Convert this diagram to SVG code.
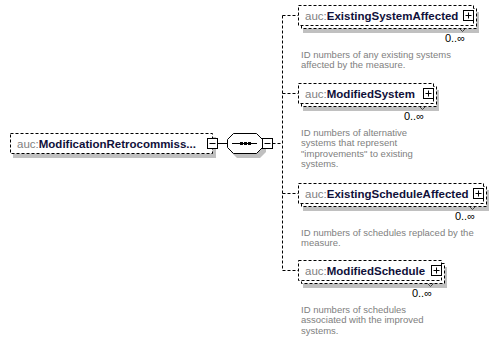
<svg xmlns="http://www.w3.org/2000/svg" width="497" height="343" viewBox="0 0 497 343">
  <style>
    .box { fill: #ffffff; stroke: #000000; stroke-width: 1; stroke-dasharray: 3 2; }
    .shadow { fill: #c0c0c0; stroke: none; }
    .btn { fill: #ffffff; stroke: #000000; stroke-width: 1; }
    .sign { stroke: #000000; stroke-width: 1; fill: none; }
    .dash { stroke: #000000; stroke-width: 1; stroke-dasharray: 3 2; fill: none; }
    .solid { stroke: #000000; stroke-width: 1; fill: none; }
    .name { font-family: "Liberation Sans", Arial, sans-serif; font-size: 11.5px; }
    .ns { fill: #7f7f7f; }
    .local { fill: #10103a; font-weight: bold; }
    .occ { font-family: "Liberation Sans", Arial, sans-serif; font-size: 11px; fill: #000000; text-anchor: end; }
    .doc { font-family: "Liberation Sans", Arial, sans-serif; font-size: 9.5px; fill: #808080; }
    .tick { stroke: #404040; stroke-width: 1; fill: none; }
  </style>

  <!-- connectors -->
  <g id="connectors">
    <line class="solid" x1="217.5" y1="143.5" x2="227.5" y2="143.5"/>
    <line class="dash" x1="272.5" y1="143.5" x2="282.5" y2="143.5"/>
    <line class="dash" x1="282.5" y1="15.5" x2="282.5" y2="270.5"/>
    <line class="dash" x1="282.5" y1="15.5" x2="298.5" y2="15.5"/>
    <line class="dash" x1="282.5" y1="93.5" x2="298.5" y2="93.5"/>
    <line class="dash" x1="282.5" y1="193.5" x2="298.5" y2="193.5"/>
    <line class="dash" x1="282.5" y1="270.5" x2="298.5" y2="270.5"/>
  </g>

  <!-- root element -->
  <g id="root">
    <rect class="shadow" x="13" y="137" width="203" height="21"/>
    <rect class="box" x="10.5" y="133.5" width="202" height="20"/>
    <text class="name" x="17" y="148"><tspan class="ns">auc:</tspan><tspan class="local">ModificationRetrocommiss...</tspan></text>
    <rect class="btn" x="207.5" y="138.5" width="10" height="10"/>
    <line class="sign" x1="209.5" y1="143.5" x2="215.5" y2="143.5"/>
  </g>

  <!-- sequence compositor -->
  <g id="sequence">
    <path class="shadow" d="M237,138 H260 L266,144 V152 L260,158 H237 L231,152 V144 Z"/>
    <path class="btn" d="M233.5,133.5 H256.5 L262.5,139.5 V147.5 L256.5,153.5 H233.5 L227.5,147.5 V139.5 Z"/>
    <line class="solid" x1="232" y1="143.5" x2="257" y2="143.5"/>
    <rect x="240" y="142" width="3" height="3" fill="#000"/>
    <rect x="244" y="142" width="3" height="3" fill="#000"/>
    <rect x="248" y="142" width="3" height="3" fill="#000"/>
    <rect class="btn" x="262.5" y="138.5" width="10" height="10"/>
    <line class="sign" x1="264.5" y1="143.5" x2="270.5" y2="143.5"/>
  </g>

  <!-- auc:ExistingSystemAffected -->
  <g id="ExistingSystemAffected">
    <rect class="shadow" x="303" y="12" width="176" height="21"/>
    <rect class="box" x="301.5" y="8.5" width="175" height="20"/>
    <rect class="box" x="298.5" y="5.5" width="175" height="20"/>
    <text class="name" x="305" y="20"><tspan class="ns">auc:</tspan><tspan class="local">ExistingSystemAffected</tspan></text>
    <rect class="btn" x="463.5" y="10.5" width="10" height="10"/>
    <path class="sign" d="M465.5,15.5 H471.5 M468.5,12.5 V18.5"/>
    <polyline class="tick" points="459.5,28.5 462.5,31.5 465.5,28.5"/>
    <text class="occ" x="465" y="42">0..∞</text>
    <text class="doc" x="301" y="57.5">ID numbers of any existing systems</text>
    <text class="doc" x="301" y="68">affected by the measure.</text>
  </g>

  <!-- auc:ModifiedSystem -->
  <g id="ModifiedSystem">
    <rect class="shadow" x="303" y="90" width="136" height="21"/>
    <rect class="box" x="301.5" y="86.5" width="135" height="20"/>
    <rect class="box" x="298.5" y="83.5" width="135" height="20"/>
    <text class="name" x="305" y="98"><tspan class="ns">auc:</tspan><tspan class="local">ModifiedSystem</tspan></text>
    <rect class="btn" x="423.5" y="88.5" width="10" height="10"/>
    <path class="sign" d="M425.5,93.5 H431.5 M428.5,90.5 V96.5"/>
    <polyline class="tick" points="419.5,106.5 422.5,109.5 425.5,106.5"/>
    <text class="occ" x="424" y="120">0..∞</text>
    <text class="doc" x="301" y="135.5">ID numbers of alternative</text>
    <text class="doc" x="301" y="146">systems that represent</text>
    <text class="doc" x="301" y="156.5">"improvements" to existing</text>
    <text class="doc" x="301" y="167">systems.</text>
  </g>

  <!-- auc:ExistingScheduleAffected -->
  <g id="ExistingScheduleAffected">
    <rect class="shadow" x="303" y="190" width="186" height="21"/>
    <rect class="box" x="301.5" y="186.5" width="185" height="20"/>
    <rect class="box" x="298.5" y="183.5" width="185" height="20"/>
    <text class="name" x="305" y="198"><tspan class="ns">auc:</tspan><tspan class="local">ExistingScheduleAffected</tspan></text>
    <rect class="btn" x="473.5" y="188.5" width="10" height="10"/>
    <path class="sign" d="M475.5,193.5 H481.5 M478.5,190.5 V196.5"/>
    <polyline class="tick" points="469.5,206.5 472.5,209.5 475.5,206.5"/>
    <text class="occ" x="475" y="220">0..∞</text>
    <text class="doc" x="301" y="235.5">ID numbers of schedules replaced by the</text>
    <text class="doc" x="301" y="246">measure.</text>
  </g>

  <!-- auc:ModifiedSchedule -->
  <g id="ModifiedSchedule">
    <rect class="shadow" x="303" y="267" width="144" height="21"/>
    <rect class="box" x="301.5" y="263.5" width="143" height="20"/>
    <rect class="box" x="298.5" y="260.5" width="143" height="20"/>
    <text class="name" x="305" y="275"><tspan class="ns">auc:</tspan><tspan class="local">ModifiedSchedule</tspan></text>
    <rect class="btn" x="431.5" y="265.5" width="10" height="10"/>
    <path class="sign" d="M433.5,270.5 H439.5 M436.5,267.5 V273.5"/>
    <polyline class="tick" points="427.5,283.5 430.5,286.5 433.5,283.5"/>
    <text class="occ" x="432" y="297">0..∞</text>
    <text class="doc" x="301" y="312.5">ID numbers of schedules</text>
    <text class="doc" x="301" y="323">associated with the improved</text>
    <text class="doc" x="301" y="333.5">systems.</text>
  </g>
</svg>
